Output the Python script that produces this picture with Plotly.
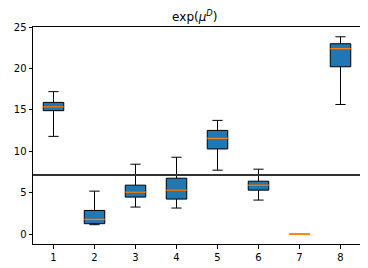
import plotly.graph_objects as go

positions = [1, 2, 3, 4, 5, 6, 7, 8]
lower_whisker = [11.8, 1.14, 3.27, 3.15, 7.72, 4.11, 0.0, 15.65]
q1 = [14.9, 1.26, 4.47, 4.23, 10.28, 5.31, 0.0, 20.2]
median = [15.36, 1.78, 5.07, 5.31, 11.56, 5.91, 0.0, 22.38]
q3 = [15.9, 2.86, 5.91, 6.75, 12.52, 6.39, 0.0, 22.98]
upper_whisker = [17.2, 5.19, 8.44, 9.28, 13.73, 7.84, 0.0, 23.82]
threshold = 7.15
y_ticks = [0, 5, 10, 15, 20, 25]

BOX_W = 0.5
OFF = 8  # default page body margin in the browser
ORANGE = "#ff7f0e"

fig = go.Figure()
# boxes with a visible body get black edges; degenerate (flat) boxes only show the median
for flat in (False, True):
    idx = [i for i in range(len(positions)) if (q3[i] - q1[i] == 0 and
                                                 upper_whisker[i] == lower_whisker[i]) == flat]
    if not idx:
        continue
    fig.add_trace(go.Box(
        x=[positions[i] for i in idx], q1=[q1[i] for i in idx],
        median=[median[i] for i in idx], q3=[q3[i] for i in idx],
        lowerfence=[lower_whisker[i] for i in idx], upperfence=[upper_whisker[i] for i in idx],
        width=BOX_W, whiskerwidth=0.5,
        fillcolor="#1f77b4", line=dict(color=ORANGE if flat else "black", width=1),
        boxpoints=False, showlegend=False, hoverinfo="skip",
    ))

# orange median lines (matplotlib style)
mx, my = [], []
for p, m in zip(positions, median):
    mx += [p - BOX_W / 2, p + BOX_W / 2, None]
    my += [m, m, None]
fig.add_trace(go.Scatter(x=mx, y=my, mode="lines",
                         line=dict(color=ORANGE, width=1.5),
                         showlegend=False, hoverinfo="skip"))

fig.add_hline(y=threshold, line=dict(color="#333333", width=2))

axis_common = dict(showline=True, mirror=True, linecolor="black", linewidth=1,
                   ticks="outside", ticklen=3.5, tickcolor="black", showgrid=False,
                   zeroline=False, tickfont=dict(family="DejaVu Sans", size=10, color="black"))

fig.update_xaxes(range=[0.5, 8.5], tickmode="array", tickvals=positions,
                 ticktext=[str(p) for p in positions], **axis_common)
fig.update_yaxes(range=[-1.19, 25.0], tickmode="array", tickvals=y_ticks,
                 ticktext=[str(t) for t in y_ticks], **axis_common)

W, H = 368 - OFF, 268 - OFF
fig.update_layout(
    width=W, height=H,
    margin=dict(l=27.3 - OFF, r=5.7, t=26.7 - OFF, b=24, pad=0),
    plot_bgcolor="white", paper_bgcolor="white",
    title=dict(text="exp(<i>μ</i><sup><i>D</i></sup>)", x=(194.8 - OFF) / W, xanchor="center",
               y=1 - (17 - OFF) / H, yanchor="middle",
               font=dict(family="DejaVu Sans", size=12, color="black")),
)

fig.write_html("out.html")
